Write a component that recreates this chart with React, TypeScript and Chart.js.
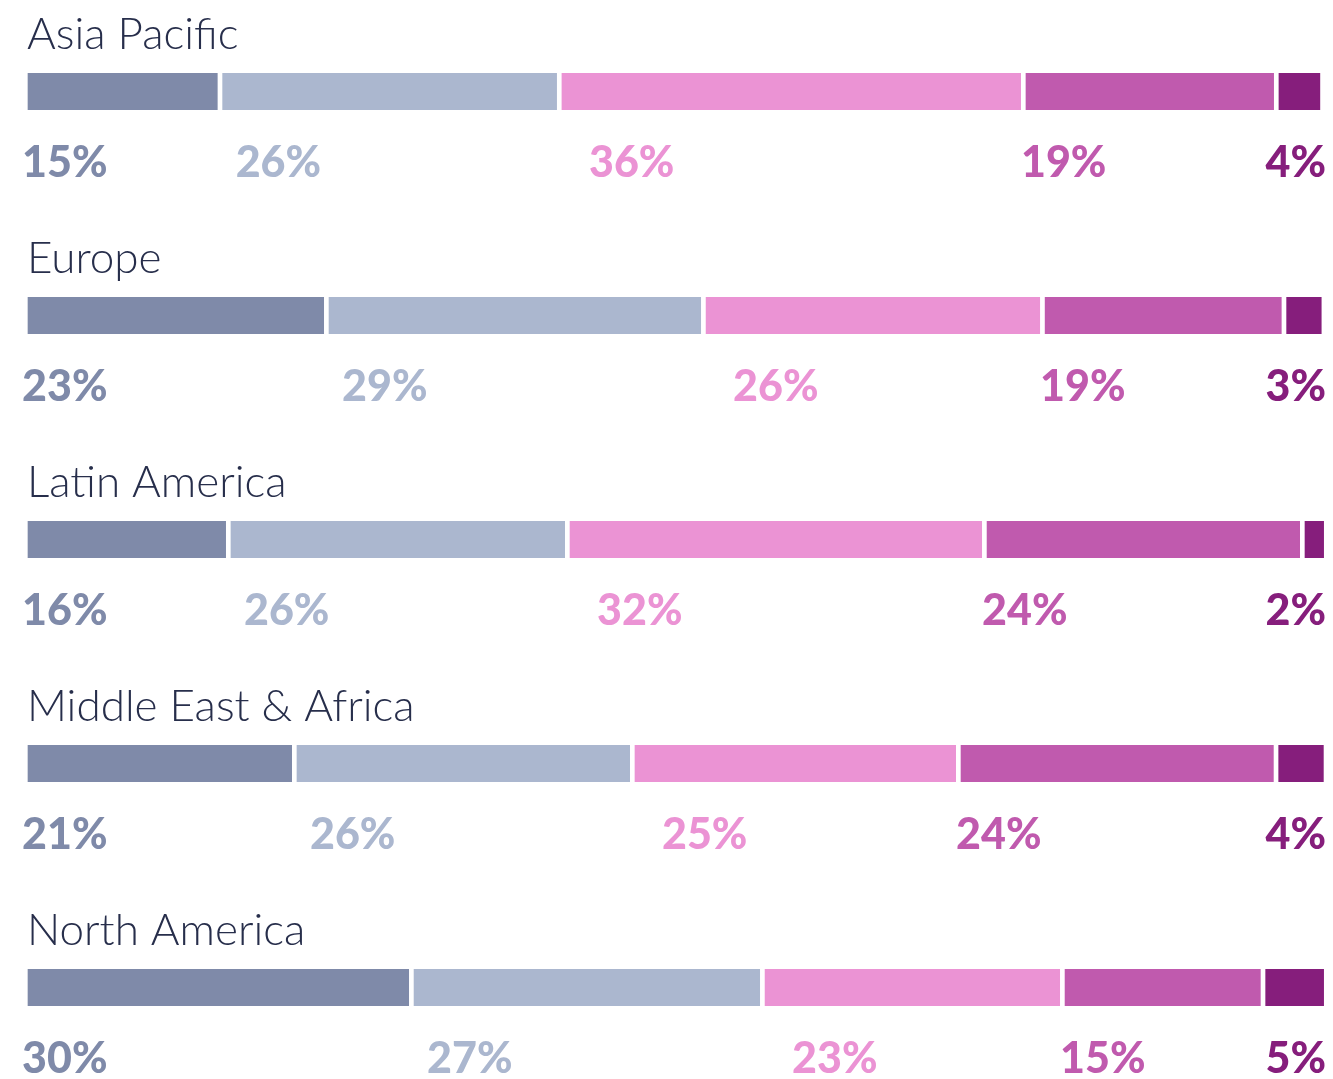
import React, { useEffect, useRef } from "react";
import { Chart, registerables } from "chart.js";

Chart.register(...registerables);

// ---- data ----
const regions = ["Asia Pacific", "Europe", "Latin America", "Middle East & Africa", "North America"];
const seriesNames = ["Share A", "Share B", "Share C", "Share D", "Share E"];
const shareA = [14.95, 23.12, 15.59, 20.66, 29.65];
const shareB = [26.06, 28.96, 26.04, 25.96, 26.96];
const shareC = [35.64, 26.04, 32.03, 25.04, 23.04];
const shareD = [19.43, 18.55, 24.42, 24.4, 15.41];
const shareE = [3.56, 3.07, 1.84, 3.84, 4.86];
const allShares = [shareA, shareB, shareC, shareD, shareE];

// ---- styles ----
const colors = ["#7f8aa9", "#abb7cf", "#eb93d4", "#c05aae", "#861e7c"];
const titleColor = "#272e4b";
const titleFont = "300 44px Lato";
const labelFont = "900 43px Lato";
const gap = 5;
const labelOffsets = [0, 18, 32, 0, 0];

const labelPlugin = {
  id: "segmentLabels",
  afterDatasetsDraw(chart: any) {
    const ctx = chart.ctx;
    const area = chart.chartArea;
    ctx.save();
    ctx.textBaseline = "alphabetic";
    regions.forEach((name, i) => {
      const first = chart.getDatasetMeta(0).data[i];
      const p0 = first.getProps(["x", "y", "base", "height"], true);
      const top = p0.y - p0.height / 2;
      const bottom = p0.y + p0.height / 2;
      ctx.font = titleFont;
      ctx.fillStyle = titleColor;
      ctx.textAlign = "left";
      ctx.fillText(name, area.left + gap - 1, top - 24);

      const n = allShares.length;
      allShares.forEach((arr, d) => {
        const bar = chart.getDatasetMeta(d).data[i];
        const p = bar.getProps(["x", "y", "base", "height"], true);
        const text = Math.round(arr[i]) + "%";
        ctx.font = labelFont;
        ctx.fillStyle = colors[d];
        let x: number;
        if (d === 0) {
          ctx.textAlign = "left";
          x = area.left - 1;
        } else if (d === n - 1) {
          ctx.textAlign = "right";
          x = area.right + 1;
        } else {
          ctx.textAlign = "left";
          x = Math.min(p.base, p.x) + labelOffsets[d];
        }
        ctx.fillText(text, x, bottom + 67);
      });
    });
    ctx.restore();
  },
};

export default function App() {
  const ref = useRef<HTMLCanvasElement | null>(null);

  useEffect(() => {
    const canvas = ref.current;
    if (!canvas) return;
    const chart = new Chart(canvas, {
      type: "bar",
      data: {
        datasets: allShares.map((arr, d) => ({
          label: seriesNames[d],
          data: arr.map((v, i) => ({ x: v, y: i })),
          backgroundColor: colors[d],
          borderColor: "#ffffff",
          borderWidth: { left: gap, right: 0, top: 0, bottom: 0 },
          borderSkipped: false,
          barThickness: 37,
        })),
      },
      options: {
        indexAxis: "y",
        responsive: false,
        animation: false,
        devicePixelRatio: 1,
        events: [],
        layout: { padding: { left: 23, right: 8, top: 0, bottom: 0 } },
        scales: {
          x: { type: "linear", stacked: true, min: 0, max: 100, display: false, offset: false, grace: 0 },
          y: {
            type: "linear",
            stacked: true,
            reverse: true,
            offset: false,
            grace: 0,
            min: -91.5 / 224,
            max: -91.5 / 224 + 1079 / 224,
            display: false,
          },
        },
        plugins: {
          legend: { display: false },
          tooltip: { enabled: false },
        },
      } as any,
      plugins: [labelPlugin],
    });
    return () => chart.destroy();
  }, []);

  return (
    <canvas
      ref={ref}
      width={1333}
      height={1079}
      style={{ position: "absolute", left: 0, top: 0, width: 1333, height: 1079 }}
    />
  );
}
